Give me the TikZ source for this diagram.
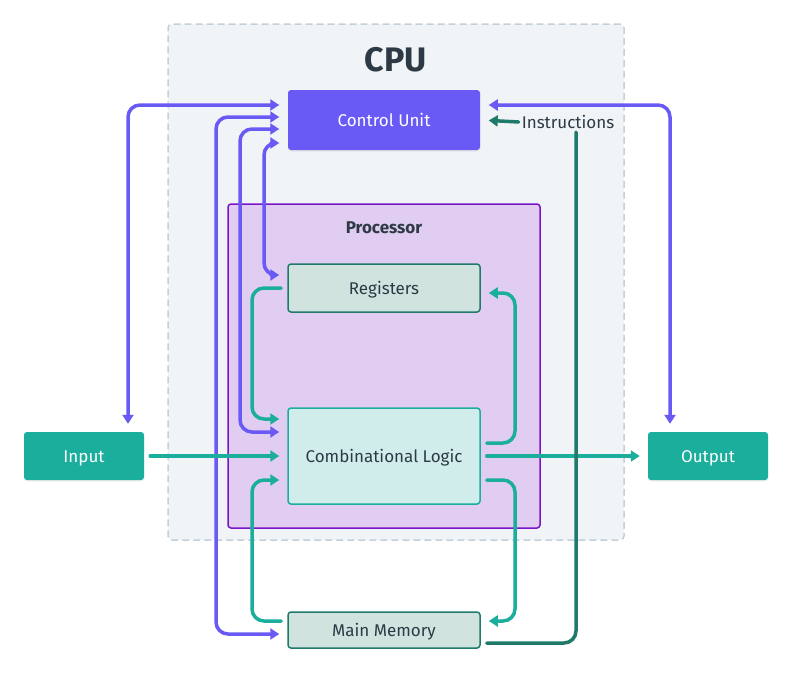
\documentclass[tikz,border=0pt]{standalone}
\usepackage{fontspec}
\setmainfont{Fira Sans}
\usetikzlibrary{arrows.meta,shadows}
\definecolor{cpubg}{HTML}{F0F4F7}
\definecolor{cpuline}{HTML}{C3CFD9}
\definecolor{ctrl}{HTML}{6A5AF5}
\definecolor{procbg}{HTML}{E1CDF2}
\definecolor{procline}{HTML}{7A14C8}
\definecolor{ioteal}{HTML}{1BAE9C}
\definecolor{darkteal}{HTML}{1F7A6A}
\definecolor{regbg}{HTML}{D0E3DF}
\definecolor{logicbg}{HTML}{D0EDEC}
\definecolor{ink}{HTML}{2D3A45}
\begin{document}
\begin{tikzpicture}[x=1pt,y=-1pt,>={Triangle[length=9pt,width=11pt]},font=\fontsize{17}{20}\selectfont,
  line join=round,line cap=round,
  box/.style={rectangle,rounded corners=3pt,minimum width=192,text=ink,line width=1.5pt,text height=12pt,text depth=0pt},
  solid box/.style={rectangle,rounded corners=3pt,minimum width=120,minimum height=48,fill=ioteal,text=white,
    text height=12pt,text depth=0pt,drop shadow={opacity=0.12,shadow xshift=0pt,shadow yshift=-1.5pt}},
  flow/.style={line width=3.5pt,rounded corners=12pt,shorten <=6pt,shorten >=8pt},
  ctrlflow/.style={flow,ctrl,<->,shorten <=8pt},
  dataflow/.style={flow,ioteal,->},
  instrflow/.style={flow,darkteal}]
  \useasboundingbox (0,0) rectangle (792,672);
  \node[draw=cpuline,fill=cpubg,dashed,dash pattern=on 6pt off 5pt,line width=1.5pt,rounded corners=4pt,
    minimum width=456,minimum height=516] (cpu) at (396,282) {};
  \node[text=ink,font=\fontsize{34}{40}\selectfont\bfseries] (cpulabel) at (396,60) {CPU};
  \node[draw=procline,fill=procbg,line width=1.5pt,rounded corners=3pt,
    minimum width=312,minimum height=324] (proc) at (384,366) {};
  \node[text=ink,font=\fontsize{17}{20}\selectfont\bfseries] (proclabel) at (384,228) {Processor};
  \node[box,fill=ctrl,text=white,minimum height=60,
    drop shadow={opacity=0.12,shadow xshift=0pt,shadow yshift=-1.5pt}] (cu) at (384,120) {Control Unit};
  \node[box,draw=darkteal,fill=regbg,minimum height=48] (reg) at (384,288) {Registers};
  \node[box,draw=ioteal,fill=logicbg,minimum height=96] (logic) at (384,456) {Combinational Logic};
  \node[box,draw=darkteal,fill=regbg,minimum height=36] (mem) at (384,630) {Main Memory};
  \node[solid box] (in) at (84,456) {Input};
  \node[solid box] (out) at (708,456) {Output};
  \node[text=ink,inner sep=3pt,text height=12pt,text depth=0pt] (instr) at (568,122) {Instructions};

  \draw[ctrlflow] (in.north -| 128,0) |- (cu.west |- 0,105);
  \draw[ctrlflow] (cu.west |- 0,117) -| (216,634) -- (mem.west |- 0,634);
  \draw[ctrlflow] (cu.west |- 0,129) -| (240,432) -- (logic.west |- 0,432);
  \draw[ctrlflow] (cu.west |- 0,143) -| (264,275) -- (reg.west |- 0,275);
  \draw[ctrlflow] (cu.east |- 0,105) -| (out.north -| 670,0);

  \draw[dataflow] (in.east) -- (logic.west);
  \draw[dataflow] (logic.east) -- (out.west);
  \draw[dataflow] (reg.west) -| (252,419) -- (logic.west |- 0,419);
  \draw[dataflow] (logic.east |- 0,443) -| (515,293) -- (reg.east |- 0,293);
  \draw[dataflow] (logic.east |- 0,480) -| (515,621) -- (mem.east |- 0,621);
  \draw[dataflow] (mem.west |- 0,621) -| (252,480) -- (logic.west |- 0,480);

  \draw[instrflow,shorten >=1pt] (mem.east |- 0,643) -| (instr.south -| 576,0);
  \draw[instrflow,->,shorten <=0pt] (instr.west) -- (cu.east |- 0,120);
\end{tikzpicture}
\end{document}
